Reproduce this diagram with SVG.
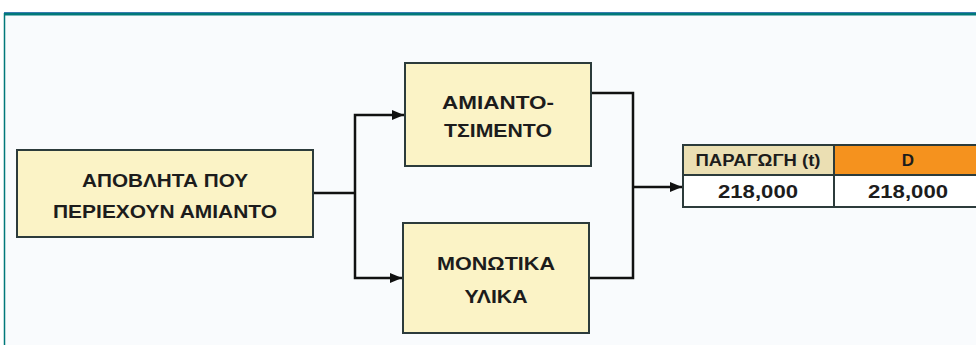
<svg xmlns="http://www.w3.org/2000/svg" width="976" height="345" viewBox="0 0 976 345">
<defs>
<marker id="ah" viewBox="0 0 12 10" refX="12" refY="5" markerWidth="12" markerHeight="10" markerUnits="userSpaceOnUse" orient="auto">
<path d="M0,0 L12,5 L0,10 z" fill="#111"/>
</marker>
<style>
.box{fill:#fbf3c6;stroke:#2c3b3b;stroke-width:2}
.t{font-family:"Liberation Sans",Arial,sans-serif;font-weight:bold;font-size:18.5px;fill:#1c1c1c;text-anchor:middle}
.c{fill:none;stroke:#111;stroke-width:2.5}
.cell{stroke:#2c3b3b;stroke-width:2}
</style>
</defs>
<rect x="0" y="0" width="976" height="345" fill="#ffffff"/>
<rect x="4" y="14" width="980" height="340" fill="#f9fbfd"/>
<line x1="4" y1="14" x2="976" y2="14" stroke="#00787a" stroke-width="3"/>
<line x1="4" y1="12.5" x2="976" y2="12.5" stroke="#3a7bb0" stroke-width="1"/>
<line x1="4.5" y1="13" x2="4.5" y2="345" stroke="#00787a" stroke-width="1.5"/>

<g id="connectors">
<polyline class="c" points="313,193 355,193"/>
<polyline class="c" points="355,193 355,115 404,115" marker-end="url(#ah)"/>
<polyline class="c" points="355,193 355,278 402,278" marker-end="url(#ah)"/>
<polyline class="c" points="591,93 633,93 633,278 589,278"/>
<polyline class="c" points="633,187 682,187" marker-end="url(#ah)"/>
</g>

<g id="waste">
<rect class="box" x="17" y="150" width="296" height="87"/>
<text class="t" x="165" y="187" textLength="166" lengthAdjust="spacingAndGlyphs">ΑΠΟΒΛΗΤΑ ΠΟΥ</text>
<text class="t" x="165" y="218" textLength="224" lengthAdjust="spacingAndGlyphs">ΠΕΡΙΕΧΟΥΝ ΑΜΙΑΝΤΟ</text>
</g>

<g id="asbestos-cement">
<rect class="box" x="405" y="63" width="186" height="103"/>
<text class="t" x="498" y="109" textLength="112" lengthAdjust="spacingAndGlyphs">ΑΜΙΑΝΤΟ-</text>
<text class="t" x="498" y="137" textLength="108" lengthAdjust="spacingAndGlyphs">ΤΣΙΜΕΝΤΟ</text>
</g>

<g id="insulation">
<rect class="box" x="403" y="223" width="186" height="110"/>
<text class="t" x="496" y="270" textLength="118" lengthAdjust="spacingAndGlyphs">ΜΟΝΩΤΙΚΑ</text>
<text class="t" x="496" y="303" textLength="63" lengthAdjust="spacingAndGlyphs">ΥΛΙΚΑ</text>
</g>

<g id="table">
<rect class="cell" x="683" y="145" width="151" height="30" fill="#ebdfb3"/>
<rect class="cell" x="834" y="145" width="150" height="30" fill="#f5921e"/>
<rect class="cell" x="683" y="175" width="151" height="32" fill="#ffffff"/>
<rect class="cell" x="834" y="175" width="150" height="32" fill="#ffffff"/>
<text class="t" x="758" y="166" style="font-size:16px" textLength="125" lengthAdjust="spacingAndGlyphs">ΠΑΡΑΓΩΓΗ (t)</text>
<text class="t" x="908" y="166" style="font-size:17px">D</text>
<text class="t" x="758" y="198" style="font-size:19px" textLength="80" lengthAdjust="spacingAndGlyphs">218,000</text>
<text class="t" x="908" y="198" style="font-size:19px" textLength="80" lengthAdjust="spacingAndGlyphs">218,000</text>
</g>
</svg>
